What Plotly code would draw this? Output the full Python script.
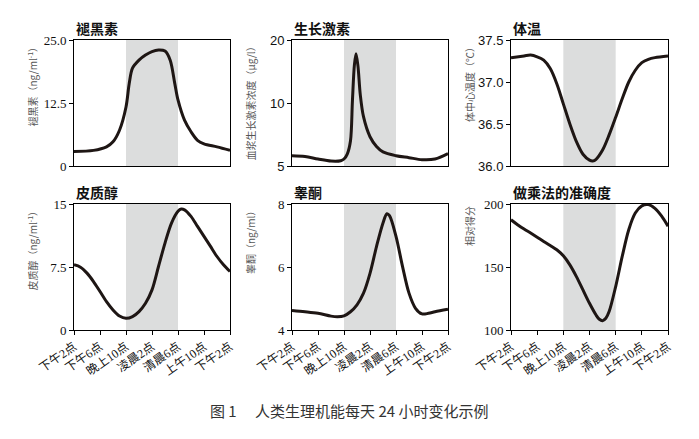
import plotly.graph_objects as go

# Hours since 14:00 (下午2点)
tick_hours = [0, 4, 8, 12, 16, 20, 24]
tick_labels = ["下午2点", "下午6点", "晚上10点", "凌晨2点", "清晨6点", "上午10点", "下午2点"]
night_start, night_end = 8, 16

mel_x = [0, 3, 5, 6, 7, 8, 8.5, 9, 10, 11, 12, 13, 14, 14.8, 15.5, 16, 17, 18, 19, 20, 22, 24]
mel_y = [2.9, 3.1, 3.8, 4.8, 7.1, 11.7, 16.4, 19.4, 21.0, 22.0, 22.7, 23.0, 22.8, 21.0, 16.4, 13.1, 9.1, 6.8, 5.1, 4.4, 3.8, 3.1]

gh_x = [0, 2, 4, 6, 7.5, 8, 8.5, 9, 9.3, 9.6, 9.85, 10.15, 10.5, 11, 12, 13, 14, 16, 18, 20, 22, 24]
gh_y = [5.6, 5.55, 5.4, 5.28, 5.3, 5.4, 5.7, 6.6, 10.3, 15.2, 17.2, 15.0, 11.0, 8.6, 6.9, 6.2, 5.84, 5.6, 5.48, 5.36, 5.4, 5.73]

temp_x = [0, 2, 3, 4, 5, 6, 7, 8, 9, 10, 11, 12, 12.5, 13, 14, 15, 16, 17, 18, 19, 20, 21, 22, 24]
temp_y = [37.29, 37.31, 37.32, 37.30, 37.26, 37.16, 36.98, 36.74, 36.50, 36.29, 36.14, 36.07, 36.06, 36.08, 36.19, 36.37, 36.58, 36.80, 37.00, 37.14, 37.23, 37.27, 37.29, 37.31]

cort_x = [0, 1, 2, 3, 4, 5, 6, 7, 8, 9, 10, 11, 12, 13, 14, 15, 16, 16.5, 17, 18, 19, 20, 21, 22, 23, 24]
cort_y = [7.76, 7.48, 6.77, 5.77, 4.58, 3.38, 2.39, 1.67, 1.39, 1.59, 2.19, 3.18, 4.78, 7.56, 10.35, 12.73, 14.13, 14.4, 14.3, 13.53, 12.34, 11.14, 9.95, 8.75, 7.76, 6.96]

test_x = [0, 2, 4, 6, 7, 8, 9, 10, 11, 12, 13, 14, 14.6, 15, 16, 17, 18, 19, 20, 21, 22, 24]
test_y = [4.62, 4.58, 4.53, 4.44, 4.42, 4.45, 4.58, 4.80, 5.17, 5.80, 6.65, 7.40, 7.69, 7.63, 6.97, 6.02, 5.17, 4.69, 4.51, 4.53, 4.58, 4.66]

mult_x = [0, 1, 2, 3, 4, 5, 6, 7, 8, 9, 10, 11, 12, 13, 13.5, 14, 14.5, 15, 16, 17, 18, 19, 20, 21, 22, 23, 24]
mult_y = [187.5, 183.6, 180.1, 177.0, 173.7, 170.3, 167.1, 163.7, 158.9, 151.7, 142.4, 131.8, 121.2, 111.9, 108.5, 107.4, 109.3, 114.6, 134.5, 158.4, 179.6, 192.8, 198.5, 199.5, 196.5, 190.5, 182.3]

titles = ["褪黑素", "生长激素", "体温", "皮质醇", "睾酮", "做乘法的准确度"]
ytitles = ["褪黑素（ng/ml<sup>-1</sup>）", "血浆生长激素浓度（μg/l）", "体中心温度（℃）",
           "皮质醇（ng/ml<sup>-1</sup>）", "睾酮（ng/ml）", "相对得分"]
caption = "图 1　 人类生理机能每天 24 小时变化示例"

yticks = [
    ([0, 12.5, 25], ["0", "12.5", "25.0"]),
    ([5, 10, 20], ["5", "10", "20"]),
    ([36.0, 36.5, 37.0, 37.5], ["36.0", "36.5", "37.0", "37.5"]),
    ([0, 7.5, 15], ["0", "7.5", "15"]),
    ([4, 6, 8], ["4", "6", "8"]),
    ([100, 150, 200], ["100", "150", "200"]),
]
yranges = [[0, 25], [0.69897, 1.30103], [36.0, 37.5], [0, 15], [4, 8], [100, 200]]
series = [(mel_x, mel_y), (gh_x, gh_y), (temp_x, temp_y), (cort_x, cort_y), (test_x, test_y), (mult_x, mult_y)]

# page body has an 8px default margin; figure is sized to fill the rest of the window
OFF = 8
W, H = 699 - OFF, 439 - OFF
col_px = [(74, 230), (292, 448), (511, 668)]
row_px = [(40, 166), (204, 330)]

def fx(px):
    return (px - OFF) / W

def fy(py):
    return 1 - (py - OFF) / H

LINE = "#1e1614"
SERIF = "Liberation Serif"
SANS = "Liberation Sans"
ytick_fonts = [SERIF, SANS, SANS, SERIF, SERIF, SERIF]
CJK = "Noto Sans CJK SC, sans-serif"
XTICK = "Liberation Serif, Noto Sans CJK SC"

fig = go.Figure()
layout = dict(width=W, height=H, autosize=False, margin=dict(l=0, r=0, t=0, b=0, pad=0),
              paper_bgcolor="white", plot_bgcolor="white", showlegend=False)
shapes, annotations = [], []

for i in range(6):
    r, c = divmod(i, 3)
    n = "" if i == 0 else str(i + 1)
    xa, ya = "x" + n, "y" + n
    x0, x1 = col_px[c]
    yt, yb = row_px[r]
    xd = [fx(x0), fx(x1)]
    yd = [fy(yb), fy(yt)]
    xs, ys = series[i]
    fig.add_trace(go.Scatter(x=xs, y=ys, mode="lines", xaxis=xa, yaxis=ya,
                             line=dict(color=LINE, width=3, shape="spline", smoothing=0.9),
                             hoverinfo="skip"))
    xaxis = dict(domain=xd, anchor=ya, range=[0, 24], showgrid=False, zeroline=False,
                 showline=True, linecolor="black", linewidth=1, mirror=True, automargin=False,
                 tickvals=tick_hours, ticktext=tick_labels, fixedrange=True)
    if r == 0:
        xaxis.update(showticklabels=False, ticks="")
    else:
        xaxis.update(ticks="outside", ticklen=4, tickcolor="black", tickangle=-35,
                     tickfont=dict(family=XTICK, size=12, color="#111"))
    yaxis = dict(domain=yd, anchor=xa, range=yranges[i], showgrid=False, zeroline=False,
                 showline=True, linecolor="black", linewidth=1, mirror=True, automargin=False,
                 tickvals=yticks[i][0], ticktext=yticks[i][1], ticks="outside", ticklen=4,
                 tickcolor="black", tickfont=dict(family=ytick_fonts[i], size=13, color="#111"),
                 fixedrange=True)
    if i == 1:
        yaxis["type"] = "log"
    layout["xaxis" + n] = xaxis
    layout["yaxis" + n] = yaxis
    shapes.append(dict(type="rect", xref=xa, yref=ya + " domain", x0=night_start, x1=night_end,
                       y0=0, y1=1, fillcolor="#dcdddd", line=dict(width=0), layer="below"))
    annotations.append(dict(text="<b>" + titles[i] + "</b>", xref="paper", yref="paper",
                            x=fx(x0), y=fy(yt), xanchor="left", yanchor="bottom",
                            showarrow=False, font=dict(family=CJK, size=14, color="#111")))
    annotations.append(dict(text=ytitles[i], xref="paper", yref="paper",
                            x=fx(x0 - 42), y=fy(yt), xanchor="center", yanchor="top",
                            textangle=-90, showarrow=False,
                            font=dict(family=CJK, size=10, color="#555")))

annotations.append(dict(text=caption, xref="paper", yref="paper", x=fx(349), y=fy(410),
                        xanchor="center", yanchor="middle", showarrow=False,
                        font=dict(family=CJK, size=15, color="#333")))
layout["shapes"] = shapes
layout["annotations"] = annotations
fig.update_layout(**layout)
fig.write_html("out.html")
